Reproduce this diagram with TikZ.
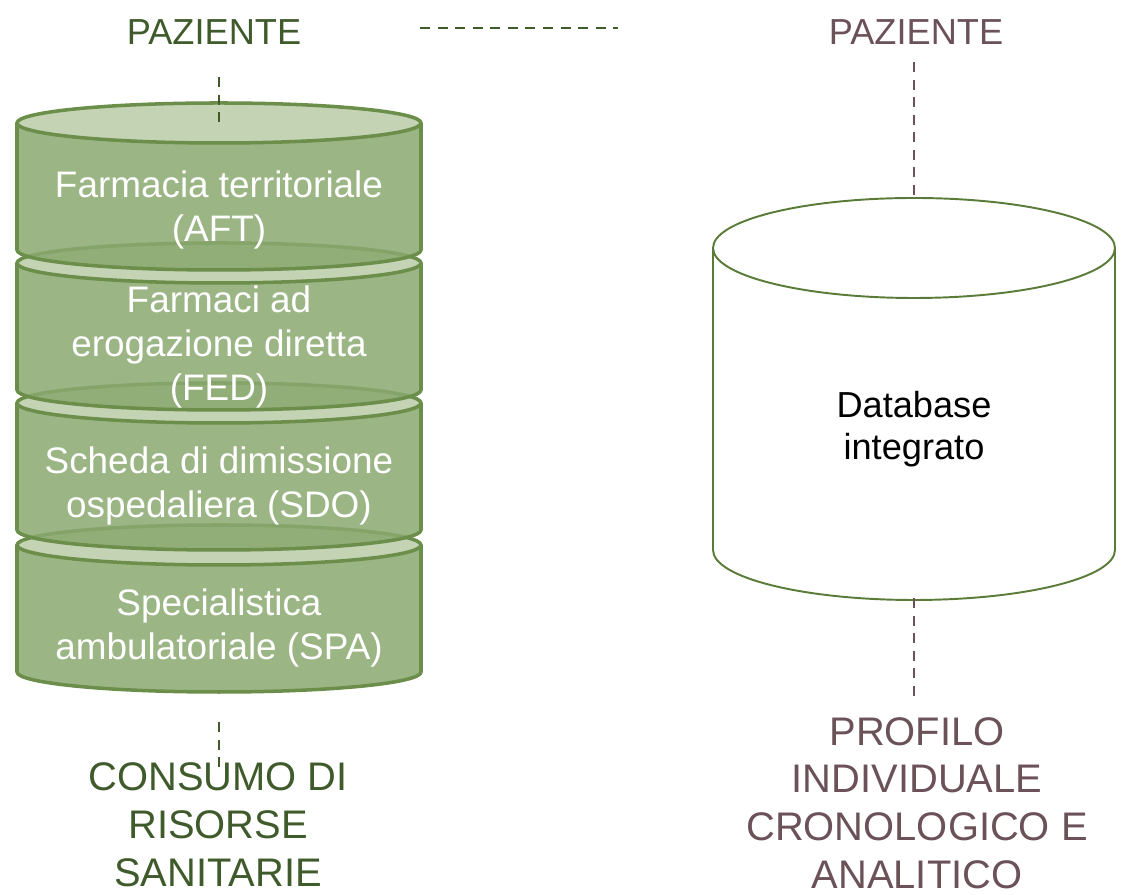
\documentclass[tikz,border=0pt]{standalone}
\usepackage{fontspec}
\setmainfont{Liberation Sans}
\usepackage{xcolor}
\usepackage{tikz}
\usetikzlibrary{positioning}
\definecolor{canfill}{RGB}{137,168,111}
\definecolor{cantopfill}{RGB}{196,211,180}
\definecolor{canline}{RGB}{107,142,74}
\definecolor{dbline}{RGB}{91,123,56}
\definecolor{leafgreen}{RGB}{63,90,43}
\definecolor{mauve}{RGB}{107,81,88}

\begin{document}
\begin{tikzpicture}[
	x=0.02cm, y=0.02cm,
	line join=round
]
\tikzset{
    canbody/.style = {draw=canline, line width=2pt, fill=canfill, fill opacity=0.85},
    cantop/.style = {draw=canline, line width=2pt, fill=cantopfill},
    dbcan/.style = {draw=dbline, line width=1.1pt, fill=white},
    cantext/.style = {align=center, text=white, font=\fontsize{21}{25.2}\selectfont},
    dbtext/.style = {align=center, text=black, font=\fontsize{20.6}{23.8}\selectfont},
    headg/.style = {align=center, text=leafgreen, font=\fontsize{20.6}{24.9}\selectfont},
    headm/.style = {align=center, text=mauve, font=\fontsize{20.6}{24.9}\selectfont},
    footg/.style = {align=center, text=leafgreen, font=\fontsize{22.7}{27.2}\selectfont},
    footm/.style = {align=center, text=mauve, font=\fontsize{22.7}{27.2}\selectfont},
    dashg/.style = {draw=leafgreen, line width=1.1pt, dash pattern=on 5.7pt off 4.3pt},
    dashm/.style = {draw=mauve, line width=1.1pt, dash pattern=on 5.7pt off 4.3pt}
}
\useasboundingbox (0,0) rectangle (1122,895);
% stacked sources, drawn from the bottom one up
\foreach \t in {350,492,632,772} {
    \draw[canbody] (17,\t) -- (17,\t-127) arc[start angle=180, end angle=360, x radius=202, y radius=20] -- (421,\t) -- cycle;
    \draw[cantop] (219,\t) ellipse [x radius=202, y radius=20];
}
% integrated database
\draw[dbcan] (713,647) -- (713,345) arc[start angle=180, end angle=360, x radius=201, y radius=50] -- (1115,647) -- cycle;
\draw[dbcan] (914,647) ellipse [x radius=201, y radius=50];
%
\node[cantext] at (219,685) (aft) {Farmacia territoriale\\(AFT)};
\node[cantext] at (219,548) (fed) {Farmaci ad\\erogazione diretta\\(FED)};
\node[cantext] at (219,409) (sdo) {Scheda di dimissione\\ospedaliera (SDO)};
\node[cantext] at (219,267) (spa) {Specialistica\\ambulatoriale (SPA)};
\node[dbtext] at (914,466) (db) {Database\\integrato};
%
\node[headg] at (214,863) (pazl) {PAZIENTE};
\node[headm] at (916,863) (pazr) {PAZIENTE};
\node[footg] at (218,70) (consumo) {CONSUMO DI\\RISORSE\\SANITARIE};
\node[footm] at (917,92) (profilo) {PROFILO\\INDIVIDUALE\\CRONOLOGICO E\\ANALITICO};
%
\coordinate (lt1) at (219,818);
\coordinate (lt2) at (219,772);
\coordinate (h1) at (420,867);
\coordinate (h2) at (618,867);
\coordinate (rt1) at (914,833);
\coordinate (rt2) at (914,697);
\coordinate (rb1) at (914,297);
\coordinate (rb2) at (914,193);
\coordinate (lb1) at (219,173);
\coordinate (lb2) at (219,127);
%
\draw[dashg] (lt1) -- (lt2);
\draw[dashg] (h1) -- (h2);
\draw[dashm] (rt1) -- (rt2);
\draw[dashm] (rb1) -- (rb2);
\draw[dashg] (lb1) -- (lb2);
\end{tikzpicture}
\end{document}
